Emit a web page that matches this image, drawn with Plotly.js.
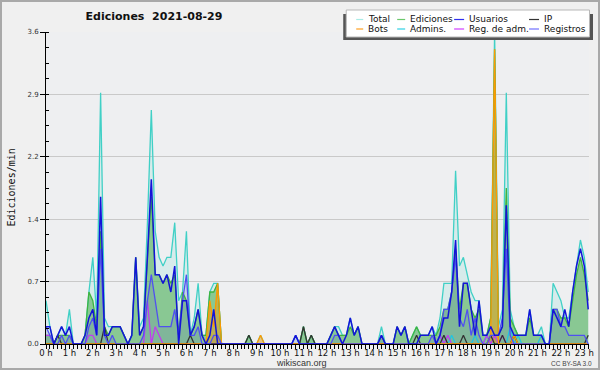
<!DOCTYPE html>
<html>
<head>
<meta charset="utf-8">
<script src="https://cdn.plot.ly/plotly-3.0.1.min.js"></script>
<style>
html,body{margin:0;padding:0;background:#f0f0f0;}
#chart{width:600px;height:370px;box-sizing:border-box;border:2px solid #a9a9a9;}
</style>
</head>
<body>
<div id="chart"></div>
<script>
// ---- data (edits per minute, 10-minute bins, grouped by hour) ----
const hourLabels = ["0 h","1 h","2 h","3 h","4 h","5 h","6 h","7 h","8 h","9 h","10 h","11 h",
  "12 h","13 h","14 h","15 h","16 h","17 h","18 h","19 h","20 h","21 h","22 h","23 h"];
const hourValues = [0,1,2,3,4,5,6,7,8,9,10,11,12,13,14,15,16,17,18,19,20,21,22,23];

const total = [
  0.5,0.2,0,0.1,0.2,0.1,  0.4,0,0,0,0.1,0.6,  1.0,0.3,2.9,0.3,0.2,0.2,  0.2,0.2,0.1,0,0.1,1.0,
  0.2,0.3,1.4,2.7,1.3,1.0,  0.9,1.0,1.0,1.4,0.5,0.6,  1.3,0.1,0.3,0.7,0.1,0.1,  0.6,0.7,0.7,0,0,0,
  0,0,0,0,0.1,0,  0,0.1,0,0,0,0,  0,0,0,0,0.1,0,  0.2,0,0.1,0,0,0,
  0,0.1,0.2,0.2,0.1,0.1,  0.3,0.1,0.2,0,0,0,  0,0,0.2,0,0,0,  0.2,0.1,0.2,0,0.1,0.2,
  0.1,0.1,0.1,0.2,0.1,0.3,  0.7,0.7,0.7,2.0,0.9,1.0,  0.8,0.6,0.5,0.5,0.1,0.1,  0.3,3.6,0.2,0.4,2.9,0.4,
  0.2,0.1,0.1,0.1,0.4,0.1,  0.1,0.2,0,0,0.7,0.6,  0.5,0.3,0.3,0.6,0.9,1.2,  1.0,0.6];
const ediciones = [
  0.1,0.1,0,0.1,0.1,0.1,  0.1,0,0,0,0.1,0.6,  0.5,0.2,1.3,0.2,0.1,0.2,  0.2,0.2,0.1,0,0.1,1.0,
  0.1,0.2,1.0,1.7,0.8,0.8,  0.7,0.8,0.7,0.8,0.1,0.6,  0.5,0.1,0.2,0.4,0.1,0.1,  0.6,0.6,0.7,0,0,0,
  0,0,0,0,0.1,0,  0,0,0,0,0,0,  0,0,0,0,0,0,  0.2,0,0.1,0,0,0,
  0,0.1,0.2,0.1,0.1,0.1,  0.2,0.1,0.2,0,0,0,  0,0,0.1,0,0,0,  0.2,0.1,0.2,0,0.1,0.2,
  0.1,0.1,0.1,0.1,0.1,0.2,  0.4,0.4,0.6,1.1,0.4,0.7,  0.7,0.4,0.3,0.4,0.1,0.1,  0.3,3.4,0.1,0.2,1.8,0.3,
  0.2,0.1,0.1,0.1,0.3,0.1,  0.1,0.1,0,0,0.4,0.4,  0.3,0.3,0.2,0.5,0.8,1.0,  0.8,0.5];
const usuarios = [
  0.2,0.2,0,0.1,0.2,0.1,  0.2,0,0,0,0.1,0.3,  0.4,0.1,1.7,0.1,0.1,0.2,  0.2,0.2,0.1,0,0.1,1.0,
  0.1,0.2,1.0,1.9,0.8,0.8,  0.7,0.8,0.6,0.9,0,0.5,  0.5,0.1,0.2,0.4,0.1,0,  0.1,0.4,0,0,0,0,
  0,0,0,0,0,0,  0,0,0,0,0,0,  0,0,0,0,0.1,0,  0,0,0,0,0,0,
  0,0.1,0.2,0.1,0,0.1,  0.3,0.1,0.2,0,0,0,  0,0,0.1,0,0,0,  0.2,0.1,0.2,0,0,0,
  0.1,0.1,0.1,0.2,0,0.1,  0.3,0.3,0.6,1.2,0.2,0.7,  0.7,0.4,0.1,0.5,0.1,0.1,  0.2,0.1,0.1,0.2,1.6,0.2,
  0.1,0.1,0.1,0.1,0.4,0.1,  0.1,0.1,0,0,0.4,0.3,  0.2,0.4,0.2,0.6,0.9,1.1,  0.9,0.4];
const ip = [
  0,0,0,0.1,0,0,  0,0,0,0,0,0,  0,0,0,0.2,0,0,  0,0,0,0,0,0,
  0,0,0,0,0,0,  0,0,0,0,0,0,  0,0.1,0,0,0,0,  0,0,0,0,0,0,
  0,0,0,0,0.1,0,  0,0,0,0,0,0,  0,0,0,0,0,0,  0.2,0,0.1,0,0,0,
  0,0,0,0,0,0,  0,0,0,0,0,0,  0,0,0,0,0,0,  0,0,0,0,0,0.1,
  0,0,0,0,0,0,  0.1,0,0,0,0,0.1,  0,0,0,0,0,0,  0.1,0,0,0.1,0,0,
  0.1,0,0,0,0,0,  0,0,0,0,0,0,  0,0,0,0,0,0,  0,0.1];
const bots = [
  0,0,0,0,0,0,  0,0,0,0,0,0,  0,0,0,0,0,0,  0,0,0,0,0,0,
  0,0,0,0,0,0,  0,0,0,0,0,0,  0,0,0,0,0,0,  0.5,0.2,0.7,0,0,0,
  0,0,0,0,0,0,  0,0.1,0,0,0,0,  0,0,0,0,0,0,  0,0,0,0,0,0,
  0,0,0,0,0,0,  0,0,0,0,0,0,  0,0,0,0,0,0,  0,0,0,0,0,0,
  0,0,0,0,0,0,  0,0,0,0,0,0,  0,0,0,0,0,0,  0.1,3.4,0,0,0,0,
  0.1,0,0,0,0,0,  0,0,0,0,0,0,  0,0,0,0,0,0,  0,0];
const admins = [
  0,0,0,0,0,0,  0,0,0,0,0,0,  0,0,0,0,0,0,  0,0,0,0,0,0,
  0,0,0,0,0,0,  0,0,0,0,0,0,  0,0,0,0,0,0,  0,0,0,0,0,0,
  0,0,0,0,0,0,  0,0,0,0,0,0,  0,0,0,0,0,0,  0,0,0,0,0,0,
  0,0,0,0,0,0,  0,0,0,0,0,0,  0,0,0,0,0,0,  0,0,0,0,0,0,
  0,0,0,0,0,0.1,  0,0,0.1,0,0,0,  0,0,0.1,0,0,0.1,  0,0,0,0,0,0.2,
  0,0.1,0,0,0,0,  0,0.1,0,0,0,0,  0,0,0,0,0,0,  0,0];
const regAdm = [
  0.1,0.1,0,0,0,0,  0,0,0,0,0,0.1,  0.1,0,0,0,0,0,  0,0,0,0,0,0,
  0,0,0.5,0,0.2,0.1,  0,0,0,0,0,0,  0,0,0,0,0,0,  0,0,0,0,0,0,
  0,0,0,0,0,0,  0,0,0,0,0,0,  0,0,0,0,0,0,  0,0,0,0,0,0,
  0,0,0,0,0,0,  0,0,0,0,0,0,  0,0,0,0,0,0,  0,0,0,0,0,0,
  0,0,0,0,0,0.1,  0,0.1,0,0,0,0,  0,0,0,0,0,0.1,  0,0.1,0,0.1,0,0,
  0,0,0,0,0,0,  0,0,0,0,0,0,  0,0,0,0,0,0,  0,0];
const registros = [
  0.2,0.1,0,0,0.1,0,  0.1,0,0,0,0,0.2,  0.3,0.1,1.1,0.1,0,0.1,  0,0,0,0,0,0,
  0,0.1,0.5,0.8,0.5,0.2,  0.2,0.2,0.2,0.4,0.1,0.5,  0.8,0.1,0.1,0.2,0,0,  0,0.1,0.1,0,0,0,
  0,0,0,0,0,0,  0,0,0,0,0,0,  0,0,0,0,0.1,0,  0,0,0,0,0,0,
  0,0,0.1,0.1,0,0,  0,0,0,0,0,0,  0,0,0.1,0,0,0,  0,0,0,0,0,0,
  0,0,0,0.1,0,0.1,  0.4,0.4,0.6,1.0,0.3,0.2,  0.4,0.1,0.3,0.1,0,0,  0.1,0.1,0.1,0.3,1.1,0.1,
  0,0,0,0,0,0,  0,0,0,0,0.4,0.4,  0.2,0.2,0.1,0.1,0.1,0.1,  0.1,0];

// time axis: one point every 10 minutes, in hours
const times = total.map((_, i) => i / 6);

// ---- geometry helpers for legend (pixel -> paper) ----
const M = {l: 45.5, r: 11, t: 32, b: 26};
const PW = 600 - M.l - M.r, PH = 370 - M.t - M.b;
const px = x => (x - M.l) / PW;
const py = y => (370 - M.b - y) / PH;

function fillTrace(y, color) {
  return {x: times, y: y, type: 'scatter', mode: 'lines', fill: 'tozeroy',
    fillcolor: color, line: {width: 0, color: 'rgba(0,0,0,0)'}, hoverinfo: 'skip', showlegend: false};
}
function lineTrace(name, y, color, w) {
  return {x: times, y: y, name: name, type: 'scatter', mode: 'lines',
    line: {color: color, width: w || 1.3}, showlegend: false};
}

const data = [
  fillTrace(total, 'rgba(64,208,200,0.13)'),
  fillTrace(ediciones, 'rgba(60,165,60,0.5)'),
  fillTrace(registros, 'rgba(80,80,200,0.14)'),
  fillTrace(bots, 'rgba(255,150,0,0.45)'),
  lineTrace('Total', total, '#40d0c6'),
  lineTrace('Ediciones', ediciones, '#3fb43f'),
  lineTrace('Admins.', admins, '#22c4e0'),
  lineTrace('Reg. de adm.', regAdm, '#c03cf0'),
  lineTrace('IP', ip, '#333333'),
  lineTrace('Bots', bots, '#ff9900'),
  lineTrace('Registros', registros, '#5050f0'),
  lineTrace('Usuarios', usuarios, '#1414d8', 1.5)
];

// ---- custom legend ----
const legendItems = [
  {name: 'Total', color: '#a8ece6', col: 0, row: 0},
  {name: 'Ediciones', color: '#6cc86c', col: 1, row: 0},
  {name: 'Usuarios', color: '#3030f0', col: 2, row: 0},
  {name: 'IP', color: '#333333', col: 3, row: 0},
  {name: 'Bots', color: '#ffa022', col: 0, row: 1},
  {name: 'Admins.', color: '#30d0e4', col: 1, row: 1},
  {name: 'Reg. de adm.', color: '#d040ff', col: 2, row: 1},
  {name: 'Registros', color: '#7070ff', col: 3, row: 1}
];
const colLineX = [356, 397, 454, 529];
const colLineW = [7, 8, 10, 10];
const rowY = [19.5, 29];

const shapes = [
  {type: 'rect', xref: 'paper', yref: 'paper', x0: px(343), x1: px(593), y0: py(40), y1: py(14),
   fillcolor: '#555555', line: {width: 0}, layer: 'above'},
  {type: 'rect', xref: 'paper', yref: 'paper', x0: px(346), x1: px(589.5), y0: py(37), y1: py(10),
   fillcolor: '#ffffff', line: {width: 1, color: '#b8b8b8'}, layer: 'above'}
];
const annotations = [];
legendItems.forEach(it => {
  const x0 = colLineX[it.col], y = rowY[it.row];
  shapes.push({type: 'line', xref: 'paper', yref: 'paper', x0: px(x0), x1: px(x0 + colLineW[it.col]),
    y0: py(y), y1: py(y), line: {color: it.color, width: 1.2}, layer: 'above'});
  annotations.push({xref: 'paper', yref: 'paper', x: px(x0 + colLineW[it.col] + 3), y: py(y),
    xanchor: 'left', yanchor: 'middle', text: it.name, showarrow: false,
    font: {family: 'DejaVu Sans', size: 9, color: '#111'}});
});
annotations.push({xref: 'paper', yref: 'paper', x: px(10), y: py(188), text: 'Ediciones/min',
  textangle: -90, showarrow: false, xanchor: 'center', yanchor: 'middle',
  font: {family: 'DejaVu Sans Mono', size: 10, color: '#111'}});
annotations.push({xref: 'paper', yref: 'paper', x: px(301), y: py(362.5), text: 'wikiscan.org',
  showarrow: false, xanchor: 'center', yanchor: 'middle',
  font: {family: 'Liberation Sans', size: 9, color: '#333'}});
annotations.push({xref: 'paper', yref: 'paper', x: px(571), y: py(363), text: 'CC BY-SA 3.0',
  showarrow: false, xanchor: 'center', yanchor: 'middle',
  font: {family: 'Liberation Sans', size: 6.5, color: '#444'}});

const layout = {
  width: 596, height: 366,
  margin: {l: M.l - 2, r: M.r - 2, t: M.t - 2, b: M.b - 2, pad: 0},
  paper_bgcolor: '#f0f0f0',
  plot_bgcolor: '#eeeff1',
  showlegend: false,
  title: {text: '<b>Ediciones\u00a0\u00a02021-08-29</b>', x: (154 - 2) / 596, xanchor: 'center',
    y: 1 - (16.5 - 2) / 366, yanchor: 'middle', xref: 'container', yref: 'container',
    font: {family: 'DejaVu Sans', size: 11, color: '#111'}},
  xaxis: {
    range: [0, 23.2], tickmode: 'array', tickvals: hourValues, ticktext: hourLabels,
    ticks: 'outside', ticklen: 4, tickcolor: '#000', tickwidth: 1,
    ticklabelstandoff: -3,
    showgrid: false, zeroline: false, showline: true, linecolor: '#000', linewidth: 1,
    tickfont: {family: 'DejaVu Sans', size: 8.5, color: '#111'},
    minor: {dtick: 1/6, tick0: 0, ticks: 'outside', ticklen: 4, tickcolor: '#000', tickwidth: 1, showgrid: false},
    fixedrange: true
  },
  yaxis: {
    range: [0, 3.6], tickmode: 'array', tickvals: [0, 0.72, 1.44, 2.16, 2.88, 3.6],
    ticktext: ['0.0', '0.7', '1.4', '2.2', '2.9', '3.6'],
    ticks: 'outside', ticklen: 5, tickcolor: '#000', tickwidth: 1,
    showgrid: true, gridcolor: '#c9c9c9', gridwidth: 1,
    zeroline: false, showline: true, linecolor: '#000', linewidth: 1,
    tickfont: {family: 'DejaVu Sans', size: 7, color: '#333'},
    minor: {dtick: 0.18, tick0: 0, ticks: 'inside', ticklen: 3, tickcolor: '#000', tickwidth: 1, showgrid: false},
    fixedrange: true
  },
  shapes: shapes,
  annotations: annotations
};

Plotly.newPlot('chart', data, layout, {displayModeBar: false, staticPlot: true});
</script>
</body>
</html>
